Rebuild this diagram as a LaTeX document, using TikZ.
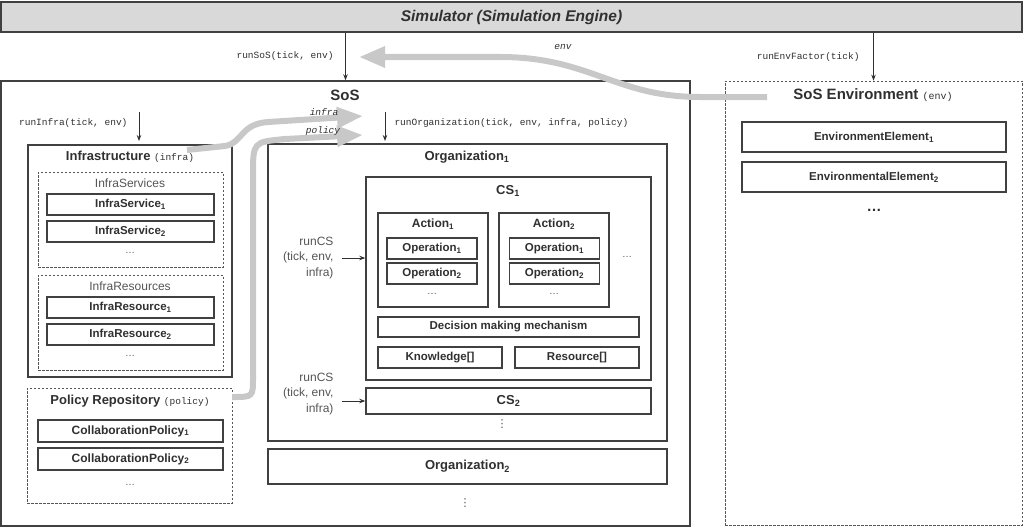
\documentclass[tikz,border=0pt]{standalone}
\usepackage{fontspec}
\setmainfont{Liberation Sans}
\setmonofont{Liberation Mono}
\newfontfamily\symfont{DejaVu Sans}
\usetikzlibrary{arrows.meta}

\definecolor{linec}{HTML}{404040}
\definecolor{txtc}{HTML}{303030}
\definecolor{softc}{HTML}{555555}
\definecolor{flowc}{HTML}{C8C8C8}
\definecolor{simc}{HTML}{D9D9D9}

\tikzset{
  boxline/.style={draw=linec, line width=1.4pt, inner sep=0pt},
  dashline/.style={draw=softc, line width=0.7pt, dash pattern=on 2.5pt off 1.5pt, inner sep=0pt},
  item/.style={boxline, font=\fontsize{11.5}{13}\selectfont\bfseries, text=txtc},
  bigtitle/.style={font=\fontsize{15}{17}\selectfont\bfseries, text=txtc},
  boxtitle/.style={font=\fontsize{13}{15}\selectfont\bfseries, text=txtc},
  acttitle/.style={font=\fontsize{12}{14}\selectfont\bfseries, text=txtc},
  soft/.style={font=\fontsize{12}{15.5}\selectfont, text=softc},
  code/.style={font=\fontsize{9.5}{11}\selectfont\ttfamily, text=txtc},
  dotmark/.style={font=\fontsize{10}{12}\selectfont, text=softc, inner sep=0pt},
  vdotmark/.style={font=\fontsize{11}{12}\selectfont\symfont, text=softc, inner sep=0pt},
  call/.style={-{Stealth[length=6pt,width=4.5pt]}, line width=0.9pt, draw=txtc},
  flow/.style={draw=flowc, line width=6pt, -{Triangle[length=26pt,width=20pt]}},
}

\begin{document}
\begin{tikzpicture}[x=1pt, y=-1pt]
  \useasboundingbox (0,0) rectangle (1024,527);

  % simulator
  \node[boxline, fill=simc, minimum width=1021pt, minimum height=30pt,
        font=\fontsize{15.5}{17}\selectfont\bfseries\itshape, text=txtc] (sim) at (511.5,17) {Simulator (Simulation Engine)};

  % sos and environment frames
  \node[boxline, minimum width=689pt, minimum height=445pt] (sos) at (345.5,303.5) {};
  \node[bigtitle] (sostitle) at (345,95) {SoS};
  \node[dashline, minimum width=297pt, minimum height=444pt] (env) at (873.5,303) {};
  \node[bigtitle] (envtitle) at (873,95) {SoS Environment {\mdseries\ttfamily\fontsize{10}{12}\selectfont (env)}};
  \node[item, minimum width=264pt, minimum height=30pt] (elem1) at (874,137) {EnvironmentElement\textsubscript{1}};
  \node[item, minimum width=264pt, minimum height=30pt] (elem2) at (874,177) {EnvironmentalElement\textsubscript{2}};
  \node[bigtitle] (envdots) at (874,210) {\dots};

  % calls from simulator
  \node[code, anchor=east] (soscall) at (337,56) {runSoS(tick, env)};
  \draw[call] (sim.south -| sos.north) -- (sos.north);
  \node[code, anchor=east] (envcall) at (863,57) {runEnvFactor(tick)};
  \draw[call] (sim.south -| env.north) -- (env.north);

  % infrastructure
  \node[boxline, minimum width=204pt, minimum height=232pt] (infra) at (130,261) {};
  \node[boxtitle] (infratitle) at (130,157) {Infrastructure {\mdseries\ttfamily\fontsize{9.5}{11}\selectfont (infra)}};
  \node[dashline, minimum width=185pt, minimum height=95pt] (services) at (130.5,219.5) {};
  \node[soft] (servicestitle) at (130,183) {InfraServices};
  \node[item, minimum width=167pt, minimum height=21pt] (service1) at (130.5,204.5) {InfraService\textsubscript{1}};
  \node[item, minimum width=167pt, minimum height=21pt] (service2) at (130.5,231.5) {InfraService\textsubscript{2}};
  \node[dotmark] (servicedots) at (130,253) {\dots};
  \node[dashline, minimum width=185pt, minimum height=95pt] (resources) at (130.5,322.5) {};
  \node[soft] (resourcestitle) at (130,286) {InfraResources};
  \node[item, minimum width=167pt, minimum height=21pt] (resource1) at (130.5,307.5) {InfraResource\textsubscript{1}};
  \node[item, minimum width=167pt, minimum height=21pt] (resource2) at (130.5,334.5) {InfraResource\textsubscript{2}};
  \node[dotmark] (resourcedots) at (130,356) {\dots};

  % policy repository
  \node[dashline, minimum width=205pt, minimum height=115pt] (policy) at (129.5,445.5) {};
  \node[boxtitle] (policytitle) at (130,401) {Policy Repository {\mdseries\ttfamily\fontsize{9.5}{11}\selectfont (policy)}};
  \node[item, minimum width=185pt, minimum height=22pt, font=\fontsize{12}{14}\selectfont\bfseries] (collab1) at (130.5,431) {CollaborationPolicy\textsubscript{1}};
  \node[item, minimum width=185pt, minimum height=22pt, font=\fontsize{12}{14}\selectfont\bfseries] (collab2) at (130.5,459) {CollaborationPolicy\textsubscript{2}};
  \node[dotmark] (collabdots) at (130,485) {\dots};

  % calls inside sos
  \coordinate (infrain) at (139,112);
  \coordinate (infraend) at (139,141);
  \node[code, anchor=east] (infracall) at (131,123) {runInfra(tick, env)};
  \draw[call] (infrain) -- (infraend);
  \coordinate (orgin) at (385,112);
  \coordinate (orgend) at (385,141);
  \node[code, anchor=west] (orgcall) at (391,123) {runOrganization(tick, env, infra, policy)};
  \draw[call] (orgin) -- (orgend);

  % organization 1
  \node[boxline, minimum width=399pt, minimum height=297pt] (org1) at (467.5,292.5) {};
  \node[boxtitle] (org1title) at (467,157) {Organization\textsubscript{1}};
  \node[boxline, minimum width=285pt, minimum height=203pt] (cs1) at (508.5,278.5) {};
  \node[boxtitle] (cs1title) at (508,191) {CS\textsubscript{1}};

  \node[boxline, minimum width=110pt, minimum height=94pt] (action1) at (433,260) {};
  \node[acttitle] (action1title) at (433,224) {Action\textsubscript{1}};
  \node[item, minimum width=90pt, minimum height=21pt] (op11) at (432,248.5) {Operation\textsubscript{1}};
  \node[item, minimum width=90pt, minimum height=21pt] (op12) at (432,273.5) {Operation\textsubscript{2}};
  \node[dotmark] (op1dots) at (432,294) {\dots};

  \node[boxline, minimum width=110pt, minimum height=94pt] (action2) at (554,260) {};
  \node[acttitle] (action2title) at (554,224) {Action\textsubscript{2}};
  \node[item, minimum width=90pt, minimum height=21pt] (op21) at (554.5,248.5) {Operation\textsubscript{1}};
  \node[item, minimum width=90pt, minimum height=21pt] (op22) at (554.5,273.5) {Operation\textsubscript{2}};
  \node[dotmark] (op2dots) at (554,294) {\dots};
  \node[dotmark] (actiondots) at (627,257) {\dots};

  \node[item, minimum width=261pt, minimum height=20pt] (decision) at (508.5,327) {Decision making mechanism};
  \node[item, minimum width=124pt, minimum height=21pt] (knowledge) at (440,357.5) {Knowledge[]};
  \node[item, minimum width=124pt, minimum height=21pt] (resource) at (577,357.5) {Resource[]};

  \node[boxline, minimum width=285pt, minimum height=26pt, font=\fontsize{13}{15}\selectfont\bfseries, text=txtc] (cs2) at (508.5,401) {CS\textsubscript{2}};
  \node[vdotmark] (csdots) at (502,424) {⋮};

  % runCS calls
  \node[soft, align=right, anchor=east] (cscall1) at (337,258) {runCS\\(tick, env,\\infra)};
  \coordinate (cs1from) at (342,258);
  \draw[call] (cs1from) -- (cs1from -| cs1.west);
  \node[soft, align=right, anchor=east] (cscall2) at (337,394) {runCS\\(tick, env,\\infra)};
  \coordinate (cs2from) at (342,401);
  \draw[call] (cs2from) -- (cs2.west);

  % organization 2
  \node[boxline, minimum width=399pt, minimum height=35pt, font=\fontsize{13}{15}\selectfont\bfseries, text=txtc] (org2) at (467.5,466.5) {Organization\textsubscript{2}};
  \node[vdotmark] (orgdots) at (465,503) {⋮};

  % data flows
  \coordinate (envfrom) at (767,97);
  \coordinate (envto) at (359,57);
  \draw[flow] (envfrom) -- (700,97) .. controls (615,97) and (590,57) .. (500,57) -- (envto);
  \node[code, font=\fontsize{9.5}{11}\selectfont\ttfamily\itshape] (envlabel) at (563,47) {env};

  \coordinate (infrafrom) at (187,150);
  \coordinate (infrato) at (363,116);
  \draw[flow] (infrafrom) -- (225,146) .. controls (243,143) and (240,124) .. (268,122) -- (infrato);
  \node[code, font=\fontsize{9.5}{11}\selectfont\ttfamily\itshape] (infralabel) at (324,112) {infra};

  \coordinate (policyfrom) at (232,397);
  \coordinate (policyto) at (363,135);
  \draw[flow] (policyfrom) .. controls (253,397) .. (253,378) -- (253,175) .. controls (253,142) .. (285,139) -- (policyto);
  \node[code, font=\fontsize{9.5}{11}\selectfont\ttfamily\itshape] (policylabel) at (323,131) {policy};
\end{tikzpicture}
\end{document}
